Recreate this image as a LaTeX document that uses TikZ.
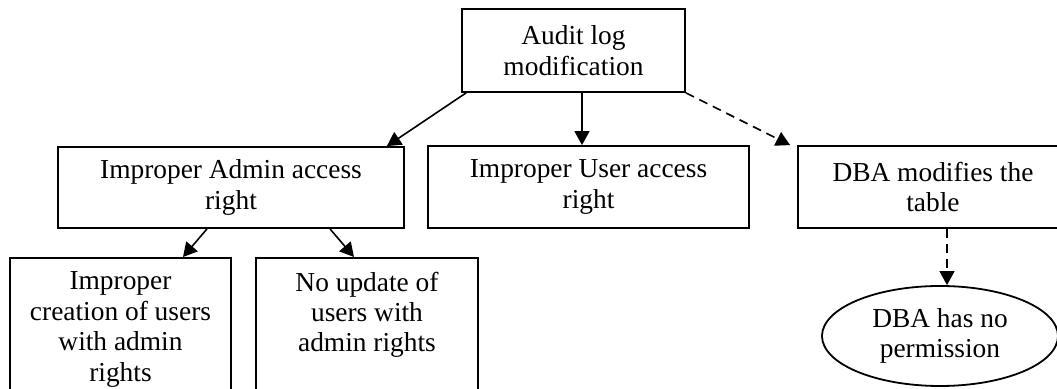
\documentclass[tikz,border=0pt]{standalone}
\usepackage{fontspec}
\setmainfont{Liberation Serif}
\usetikzlibrary{arrows.meta,shapes.geometric}

\tikzset{
  box/.style={draw, line width=0.9pt, align=center, inner sep=0pt,
    font=\fontsize{13.7}{15.2}\selectfont},
  lowbox/.style={box, anchor=north, inner ysep=7pt, text depth=35pt},
  oval/.style={box, ellipse},
  arrow/.style={line width=0.8pt, -{Triangle[length=7pt,width=7.5pt]}},
  dasharrow/.style={arrow, dash pattern=on 4.5pt off 3pt},
}

\begin{document}
\begin{tikzpicture}[x=0.5pt,y=-0.5pt]

% Frame (the lower row runs off the page)
\useasboundingbox (0,0) rectangle (1057,389);
\clip (0,0) rectangle (1057,389);

% Top node
\node[box, minimum width=111.5pt, minimum height=41.5pt] (audit) at (573.5,50.5)
  {Audit log\\modification};

% Middle row
\node[box, minimum width=173pt, minimum height=40.5pt] (admin) at (231,187.5)
  {Improper Admin access\\right};
\node[box, minimum width=160.5pt, minimum height=41pt] (user) at (588.5,187)
  {Improper User access\\right};
\node[box, minimum width=135pt, minimum height=41pt] (dba) at (933,187)
  {DBA modifies the\\table};

% Bottom row
\node[lowbox, minimum width=110.5pt] (create) at (120.5,257)
  {Improper\\creation of users\\with admin\\rights};
\node[lowbox, minimum width=111pt] (noupd) at (367,257)
  {No update of\\users with\\admin rights};
\node[oval, minimum width=118pt, minimum height=50pt] (noperm) at (940,336)
  {DBA has no\\permission};

% Connectors
\draw[arrow] ([xshift=2.5pt]audit.south west) -- ([xshift=-9pt]admin.north east);
\draw[arrow] ([xshift=4.25pt]audit.south) -- ([xshift=4.25pt]audit.south |- user.north);
\draw[dasharrow] (audit.south east) -- ([xshift=-3.5pt]dba.north west);
\draw[arrow] ([xshift=-12pt]admin.south) -- ([xshift=31.25pt]create.north);
\draw[arrow] ([xshift=49.5pt]admin.south) -- ([xshift=-6.5pt]noupd.north);
\draw[dasharrow] ([xshift=3.5pt]noperm.north |- dba.south) -- ([xshift=3.5pt]noperm.north);

\end{tikzpicture}
\end{document}
